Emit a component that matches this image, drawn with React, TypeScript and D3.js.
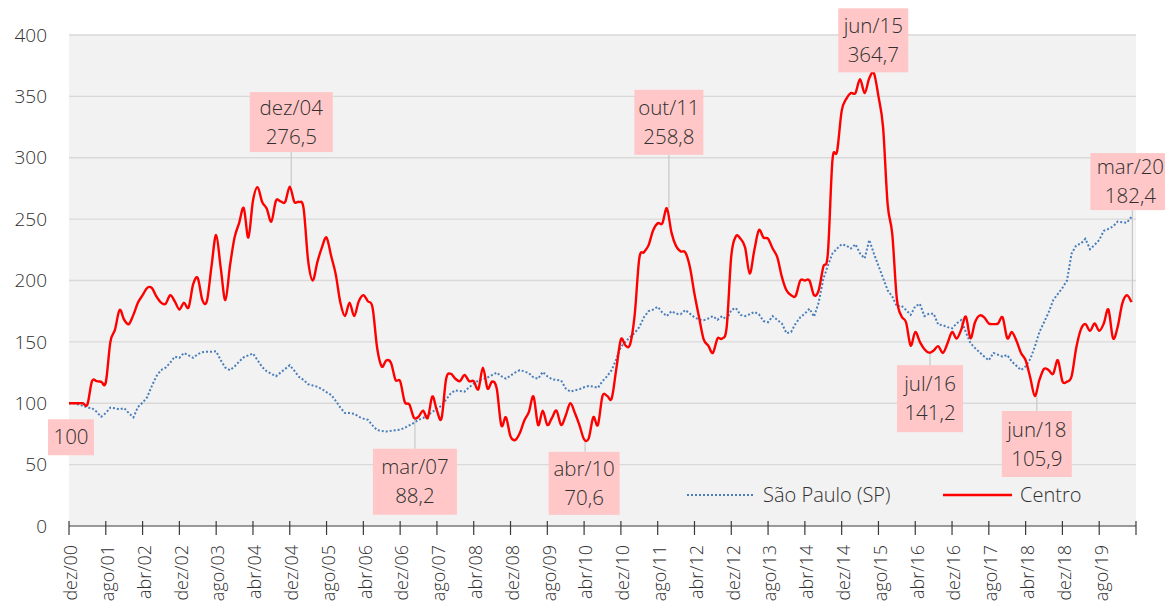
import React from "react";
import * as d3 from "d3";

const WIDTH = 1165;
const HEIGHT = 603;

// x tick labels, one every 8 months starting dez/00
const tickLabels = [
  "dez/00", "ago/01", "abr/02", "dez/02", "ago/03", "abr/04", "dez/04", "ago/05",
  "abr/06", "dez/06", "ago/07", "abr/08", "dez/08", "ago/09", "abr/10", "dez/10",
  "ago/11", "abr/12", "dez/12", "ago/13", "abr/14", "dez/14", "ago/15", "abr/16",
  "dez/16", "ago/17", "abr/18", "dez/18", "ago/19",
];

const yTicks = [0, 50, 100, 150, 200, 250, 300, 350, 400];

// monthly index, dez/00 = 100
const saoPaulo = [
  100, 100, 99, 98, 96.5, 96, 93, 89, 92, 96.5,
  96, 95, 96, 92, 88.5, 97, 100.5, 105, 114, 122,
  127, 129, 133, 138, 137, 141, 139, 137, 140, 141.5,
  142, 142, 142.3, 135, 129, 127, 130, 134, 137.5, 139,
  140.6, 135, 129.5, 126, 124, 122, 125, 128, 131, 126.5,
  121.5, 119, 115.5, 114.5, 113.5, 111.5, 109, 106.8, 102, 96.5,
  92, 92, 91.5, 89, 87.5, 86.5, 82, 78, 77.5, 77,
  77.5, 78, 78.5, 80, 82, 84, 86.5, 88, 90, 93,
  95.5, 98, 103, 108, 110.5, 110, 109.5, 113, 116, 118.5,
  119.6, 121, 123, 125, 122, 120, 122.5, 125, 127, 126,
  124.5, 121, 120, 125.5, 122, 119.6, 119, 118.5, 112, 109.5,
  110.5, 111.5, 113, 114, 113.5, 112.5, 118, 122, 127, 136,
  146, 150, 154, 157.3, 162, 170, 175, 176.3, 178.5, 174,
  171, 175, 173, 172.5, 176, 173, 170, 168.2, 167.6, 169,
  171, 168, 171, 168, 176, 177.6, 172, 171, 172.5, 174.4,
  172.5, 167, 166, 171, 168, 165, 157, 158, 165, 170,
  173, 177, 170.5, 182, 201, 212, 222, 226, 229.5, 228.5,
  226, 229.5, 222, 218, 233, 222, 212, 202, 192, 187,
  179, 179.5, 176, 172, 179, 181, 171, 173, 173, 164,
  163.6, 162, 161, 165, 167.8, 158, 149, 145, 141.5, 138,
  135, 141, 139.5, 138, 139.3, 134, 130.5, 127, 130, 136,
  146, 158, 166, 174, 184, 189, 194, 200, 222, 228.7,
  230, 234, 225.5, 229, 233, 240.5, 242, 244, 248, 247.5,
  247, 251.8,
];

const centro = [
  100, 100, 100, 100, 99, 118, 118, 117.5, 117, 150,
  160, 176, 168, 164.5, 172, 182, 188, 194, 194, 187,
  182, 181, 188, 183, 176.4, 182, 178, 197, 202, 184,
  183.5, 212, 237, 210, 184, 212, 235, 247, 259, 235,
  265, 276, 264, 258.5, 248, 265, 264.5, 264, 276.5, 264,
  264, 259, 216, 200, 215, 227, 235, 220, 205, 182,
  171, 182, 171, 183, 188, 183, 178, 145, 130, 135,
  133, 119, 118, 101, 99, 88.2, 89, 94, 88, 105.5,
  94, 87.7, 120, 124, 120, 118, 123, 118, 118, 111.4,
  129, 112, 117.7, 112, 82, 88.6, 73, 70, 75.5, 86,
  93, 105.5, 82.3, 94, 82.3, 88, 94, 82.3, 90, 100,
  92, 82, 70.6, 71.4, 88.6, 82.3, 106, 106, 104, 128,
  152, 147, 148, 172, 218, 223, 228.6, 240.8, 246.7, 246.5,
  258.8, 239, 228, 223.7, 223, 211, 189, 170, 152, 147,
  141, 152.7, 152.7, 162, 220, 235.9, 234, 227, 205.6, 224.5,
  241, 235, 234, 226, 219, 203, 192, 188, 187.5, 200,
  200, 200, 188, 192, 211, 222, 298, 305, 338, 348,
  352.7, 352.7, 364, 352.7, 364.7, 369, 350, 325, 262, 238,
  185, 171, 166, 147, 158, 150, 144, 141.2, 143, 146.5,
  141, 148.6, 158, 152.7, 160, 170.5, 153, 166, 171.5, 170,
  165, 164.5, 165, 170, 153, 158, 151, 141, 135, 121,
  105.9, 119, 128, 127, 124, 135, 118, 117.6, 122, 145,
  160, 164.5, 159, 165, 159, 165, 176.4, 153, 162, 181,
  188, 182.4,
];

// annotated points of the Centro series
const noteMonths = [0, 48, 75, 112, 130, 174, 187, 210, 231];
const noteTitles = ["", "dez/04", "mar/07", "abr/10", "out/11", "jun/15", "jul/16", "jun/18", "mar/20"];
const noteValues = ["100", "276,5", "88,2", "70,6", "258,8", "364,7", "141,2", "105,9", "182,4"];

// box placement relative to the point: dx, dy (centre), width, height, leader
const noteBoxes = [
  [2, 34, 46, 36, 0],
  [1.5, -64.5, 83, 60, 1],
  [1, 64, 84, 66, 1],
  [0, 44, 71, 63, 1],
  [2, -86, 69, 65, 1],
  [4, -38, 70, 64, 0],
  [1, 46, 66, 67, 1],
  [2, 48, 70, 66, 1],
  [-1, -120.5, 80, 57, 1],
];

const FONT = "'Open Sans', 'Noto Sans', sans-serif";
const TEXT = "#303030";

export default function App() {
  const x = d3.scaleLinear().domain([0, 232]).range([69, 1136]);
  const y = d3.scaleLinear().domain([0, 400]).range([526, 35]);

  const smooth = d3
    .line<number>()
    .x((_, i) => x(i))
    .y((d) => y(d))
    .curve(d3.curveCatmullRom.alpha(0));

  const straight = d3
    .line<number>()
    .x((_, i) => x(i))
    .y((d) => y(d));

  const xTicks = d3.range(0, 233, 8);

  return (
    <div style={{ position: "absolute", left: 0, top: 0 }}>
      <style>{`body{margin:0;overflow:hidden}`}</style>
      <svg width={WIDTH} height={HEIGHT} style={{ display: "block" }} fontFamily={FONT} fontWeight={300}>
        <rect x={x(0)} y={y(400)} width={x(232) - x(0)} height={y(0) - y(400)} fill="#f2f2f2" />
        {yTicks.slice(1).map((t) => (
          <line key={t} x1={x(0)} x2={x(232)} y1={y(t)} y2={y(t)} stroke="#d9d9d9" strokeWidth={1.3} />
        ))}
        {yTicks.map((t) => (
          <text key={t} x={47} y={y(t)} dy="0.35em" textAnchor="end" fontSize={19} fill={TEXT}>
            {t}
          </text>
        ))}

        {/* leader lines */}
        {noteMonths.map((m, k) => {
          const [dx, dy, w, h, lead] = noteBoxes[k];
          if (!lead) return null;
          const px = x(m) + Math.max(dx, 1);
          const py = y(centro[m]);
          const cy = py + dy;
          const edge = dy < 0 ? cy + h / 2 : cy - h / 2;
          return <line key={k} x1={px} x2={px} y1={py} y2={edge} stroke="#c8c8c8" strokeWidth={1.2} />;
        })}

        <path d={straight(saoPaulo) || ""} fill="none" stroke="#4a7ebb" strokeWidth={2} strokeDasharray="2 2" />
        <path d={smooth(centro) || ""} fill="none" stroke="#ff0000" strokeWidth={2.4} />

        {/* x axis */}
        <line x1={x(0)} x2={x(232)} y1={y(0)} y2={y(0)} stroke="#3a3a3a" strokeWidth={1.2} />
        {xTicks.map((t) => (
          <line key={t} x1={x(t)} x2={x(t)} y1={y(0) - 5} y2={y(0) + 9} stroke="#3a3a3a" strokeWidth={1.2} />
        ))}
        {tickLabels.map((lab, k) => (
          <text
            key={lab}
            transform={`translate(${x(k * 8) + 2},545) rotate(-90)`}
            dy="0.35em"
            textAnchor="end"
            fontSize={18}
            fill={TEXT}
          >
            {lab}
          </text>
        ))}

        {/* annotation boxes */}
        {noteMonths.map((m, k) => {
          const [dx, dy, w, h] = noteBoxes[k];
          const cx = x(m) + dx;
          const cy = y(centro[m]) + dy;
          const two = noteTitles[k] !== "";
          return (
            <g key={k}>
              <rect x={cx - w / 2} y={cy - h / 2} width={w} height={h} fill="#ffc7c7" />
              {two ? (
                <>
                  <text x={cx} y={cy - 14.5} dy="0.35em" textAnchor="middle" fontSize={20.5} fill={TEXT}>
                    {noteTitles[k]}
                  </text>
                  <text x={cx} y={cy + 14.5} dy="0.35em" textAnchor="middle" fontSize={20.5} fill={TEXT}>
                    {noteValues[k]}
                  </text>
                </>
              ) : (
                <text x={cx} y={cy} dy="0.35em" textAnchor="middle" fontSize={20.5} fill={TEXT}>
                  {noteValues[k]}
                </text>
              )}
            </g>
          );
        })}

        {/* legend */}
        <line x1={687} x2={755} y1={495} y2={495} stroke="#4a7ebb" strokeWidth={2} strokeDasharray="2 2" />
        <text x={763} y={495} dy="0.35em" fontSize={20} fill={TEXT}>São Paulo (SP)</text>
        <line x1={943} x2={1012} y1={495} y2={495} stroke="#ff0000" strokeWidth={2.4} />
        <text x={1020} y={495} dy="0.35em" fontSize={20} fill={TEXT}>Centro</text>
      </svg>
    </div>
  );
}
